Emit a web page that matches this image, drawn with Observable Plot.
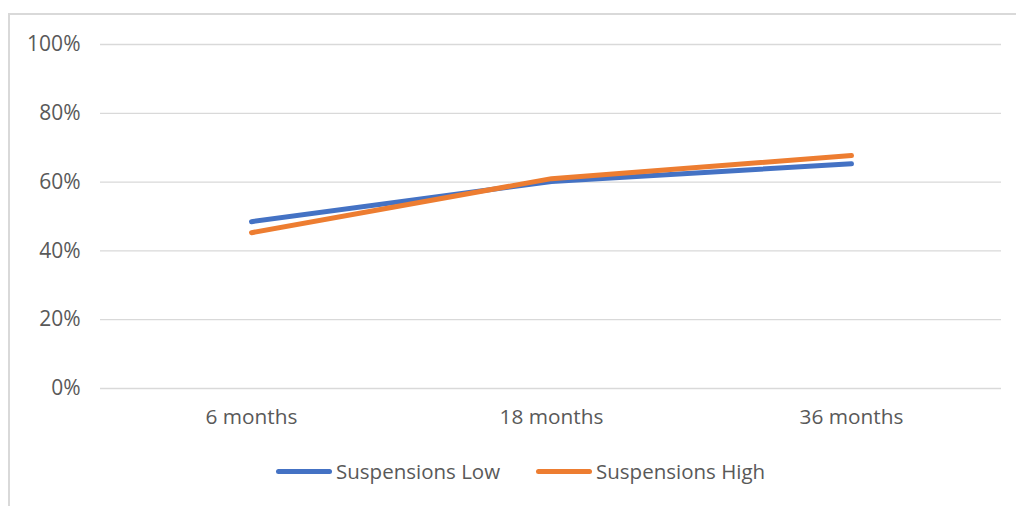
<!DOCTYPE html>
<html>
<head>
<meta charset="utf-8">
<script src="https://cdn.jsdelivr.net/npm/d3@7"></script>
<script src="https://cdn.jsdelivr.net/npm/@observablehq/plot@0.6"></script>
<style>
  html, body { margin: 0; padding: 0; background: #fff; width: 1016px; height: 506px; overflow: hidden; }
  #frame { position: absolute; left: 8px; top: 13px; width: 1100px; height: 600px; border: 2px solid #d9d9d9; box-sizing: border-box; }
  #chart { position: absolute; left: 0; top: 0; }
  #legend { position: absolute; left: 0; top: 458px; width: 1016px; height: 26px; font-family: "Open Sans", sans-serif; font-size: 20.5px; color: #595959; }
  .item { position: absolute; top: 0; display: flex; align-items: center; height: 26px; }
  .swatch { width: 56px; height: 5px; border-radius: 2.5px; margin-right: 4px; }
</style>
</head>
<body>
<div id="frame"></div>
<div id="chart"></div>
<div id="legend"></div>
<script>
const categories = ["6 months", "18 months", "36 months"];
const seriesNames = ["Suspensions Low", "Suspensions High"];
const lowValues = [0.485, 0.602, 0.653];
const highValues = [0.453, 0.610, 0.677];
const yTicks = [0, 0.2, 0.4, 0.6, 0.8, 1.0];
const colors = ["#4472C4", "#ED7D31"];

const data = [];
categories.forEach((c, i) => {
  data.push({category: c, series: seriesNames[0], value: lowValues[i]});
  data.push({category: c, series: seriesNames[1], value: highValues[i]});
});

const chart = Plot.plot({
  width: 1016,
  height: 448,
  marginLeft: 100,
  marginRight: 15,
  marginTop: 44,
  marginBottom: 60,
  style: { fontFamily: "'Open Sans', sans-serif", fontSize: "20.5px", color: "#595959", background: "transparent" },
  x: { type: "band", domain: categories, padding: 0, label: null },
  y: { domain: [0, 1], label: null },
  color: { domain: seriesNames, range: colors },
  marks: [
    Plot.gridY(yTicks, { stroke: "#d9d9d9", strokeOpacity: 1, strokeWidth: 1.3 }),
    Plot.axisY(yTicks, { tickSize: 0, tickPadding: 20, tickFormat: d => Math.round(d * 100) + "%", fill: "#595959", fontSize: 21 }),
    Plot.axisX({ tickSize: 0, tickPadding: 21, fill: "#595959", fontSize: 20.8 }),
    Plot.line(data, { x: "category", y: "value", z: "series", stroke: "series", strokeWidth: 5, strokeLinecap: "round" })
  ]
});
document.getElementById("chart").appendChild(chart);

const legend = document.getElementById("legend");
const lefts = [276, 536];
seriesNames.forEach((name, i) => {
  const item = document.createElement("div");
  item.className = "item";
  item.style.left = lefts[i] + "px";
  const sw = document.createElement("div");
  sw.className = "swatch";
  sw.style.background = colors[i];
  const t = document.createElement("span");
  t.textContent = name;
  item.appendChild(sw);
  item.appendChild(t);
  legend.appendChild(item);
});
</script>
</body>
</html>
